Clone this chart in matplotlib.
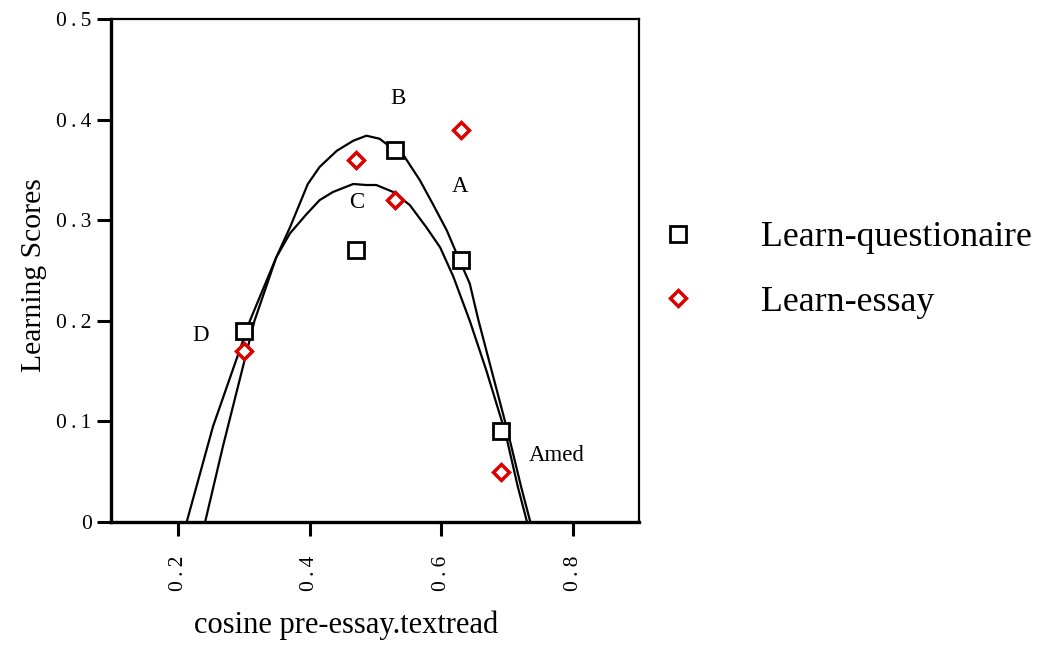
import matplotlib.pyplot as plt

# points
x_pts = [0.30, 0.47, 0.53, 0.63, 0.69]
questionaire = [0.19, 0.27, 0.37, 0.26, 0.09]
essay = [0.17, 0.36, 0.32, 0.39, 0.05]

# the two fitted curves
curve1_x = [0.241, 0.268, 0.316, 0.349, 0.370, 0.397, 0.415, 0.441, 0.466, 0.486,
            0.506, 0.522, 0.544, 0.567, 0.587, 0.608, 0.623, 0.643, 0.656, 0.676,
            0.701, 0.721, 0.735]
curve1_y = [0.0, 0.075, 0.200, 0.263, 0.293, 0.336, 0.353, 0.369, 0.379, 0.384,
            0.381, 0.373, 0.363, 0.340, 0.316, 0.290, 0.267, 0.237, 0.201, 0.151,
            0.089, 0.035, 0.0]
curve2_x = [0.213, 0.253, 0.309, 0.349, 0.370, 0.395, 0.415, 0.435, 0.466, 0.486,
            0.501, 0.527, 0.552, 0.577, 0.598, 0.618, 0.643, 0.668, 0.697, 0.716,
            0.730]
curve2_y = [0.0, 0.095, 0.200, 0.263, 0.287, 0.306, 0.320, 0.328, 0.336, 0.335,
            0.335, 0.328, 0.315, 0.293, 0.273, 0.244, 0.200, 0.151, 0.089, 0.035,
            0.0]

# tick labels (the original spaces the digits out)
x_ticks = [0.2, 0.4, 0.6, 0.8]
x_ticklabels = ['0\u2009.\u20092', '0\u2009.\u20094', '0\u2009.\u20096', '0\u2009.\u20098']
y_ticks = [0, 0.1, 0.2, 0.3, 0.4, 0.5]
y_ticklabels = ['0', '0\u2009.\u20091', '0\u2009.\u20092', '0\u2009.\u20093',
                '0\u2009.\u20094', '0\u2009.\u20095']

# point labels
labels = ['B', 'A', 'C', 'D', 'Amed']
label_x = [0.534, 0.628, 0.471, 0.234, 0.733]
label_y = [0.416, 0.328, 0.312, 0.180, 0.061]
label_ha = ['center', 'center', 'center', 'center', 'left']

plt.rcParams['font.family'] = ['Liberation Serif', 'DejaVu Serif']

fig = plt.figure(figsize=(10.42, 6.45), dpi=100)
ax = fig.add_axes([0.1065, 0.1907, 0.5067, 0.7798])

ax.plot(curve1_x, curve1_y, color='black', lw=1.6, label='_nolegend_')
ax.plot(curve2_x, curve2_y, color='black', lw=1.6, label='_nolegend_')

red = '#dd0000'
ax.plot(x_pts, questionaire, linestyle='none', marker='s', ms=11, mfc='white',
        mec='black', mew=2, label='Learn-questionaire')
ax.plot(x_pts, essay, linestyle='none', marker='D', ms=8.5, mfc='white',
        mec=red, mew=2.5, label='Learn-essay')

for t, tx, ty, ha in zip(labels, label_x, label_y, label_ha):
    ax.text(tx, ty, t, fontsize=16.5, ha=ha, va='baseline')

ax.set_xlim(0.098, 0.9)
ax.set_ylim(0, 0.5)
ax.set_xticks(x_ticks)
ax.set_xticklabels(x_ticklabels, rotation=90)
ax.set_yticks(y_ticks)
ax.set_yticklabels(y_ticklabels)
ax.tick_params(axis='both', direction='out', length=10, width=2.2, labelsize=15.5)
ax.tick_params(axis='y', pad=4)
ax.tick_params(axis='x', pad=14)

for side in ['left', 'bottom']:
    ax.spines[side].set_linewidth(2.4)
for side in ['top', 'right']:
    ax.spines[side].set_linewidth(1.6)

ax.set_xlabel('cosine pre-essay.textread', fontsize=22)
ax.xaxis.set_label_coords(0.445, -0.175)
ax.set_ylabel('Learning Scores', fontsize=21.3)
ax.yaxis.set_label_coords(-0.122, 0.49)

fig.legend(loc='center left', bbox_to_anchor=(0.637, 0.5814), frameon=False,
           fontsize=25.8, handlelength=0.8, handletextpad=1.9, labelspacing=0.89,
           borderpad=0, borderaxespad=0)

fig.savefig('out.png', dpi=100)
